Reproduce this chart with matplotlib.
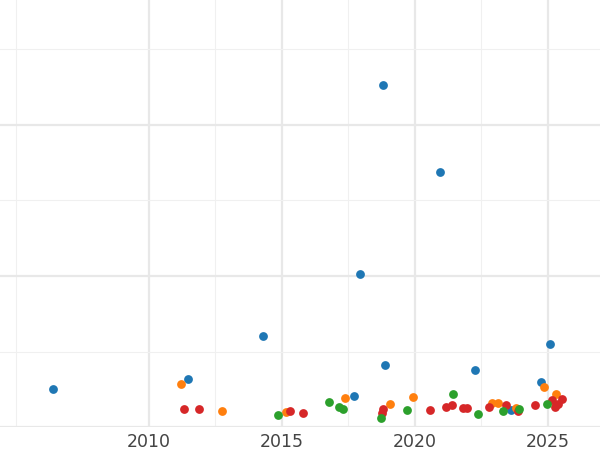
import matplotlib
matplotlib.use("Agg")
import matplotlib.pyplot as plt
from matplotlib.ticker import MultipleLocator, FixedLocator

# values (year, value)
blue_x = [2006.4, 2011.47, 2014.3, 2017.93, 2018.8, 2017.7, 2018.87, 2020.94, 2022.26, 2025.08, 2024.74, 2023.6]
blue_y = [0.50, 0.64, 1.21, 2.03, 4.53, 0.41, 0.82, 3.38, 0.75, 1.10, 0.60, 0.23]
orange_x = [2011.2, 2012.75, 2015.15, 2017.37, 2019.06, 2019.93, 2022.9, 2023.12, 2024.85, 2025.3, 2023.8]
orange_y = [0.57, 0.21, 0.20, 0.38, 0.30, 0.40, 0.32, 0.32, 0.53, 0.44, 0.25]
red_x = [2011.32, 2011.88, 2015.3, 2015.8, 2018.8, 2018.76, 2020.57, 2021.17, 2021.4, 2021.8,
         2021.96, 2022.8, 2023.42, 2023.87, 2024.5, 2025.15, 2025.26, 2025.38, 2025.53]
red_y = [0.24, 0.24, 0.21, 0.19, 0.24, 0.19, 0.23, 0.26, 0.29, 0.25,
         0.25, 0.26, 0.29, 0.21, 0.29, 0.36, 0.26, 0.30, 0.37]
green_x = [2014.85, 2016.77, 2017.14, 2017.3, 2018.72, 2019.7, 2021.43, 2022.37, 2023.3, 2023.9, 2024.96]
green_y = [0.16, 0.33, 0.26, 0.24, 0.12, 0.23, 0.44, 0.17, 0.21, 0.24, 0.30]
year_ticks = [2010, 2015, 2020, 2025]

fig = plt.figure(figsize=(6, 4.5), dpi=100)
ax = fig.add_axes([0, 0.051, 1, 0.949])
ax.set_xlim(2004.4, 2026.96)
ax.set_ylim(0, 5.655)

ax.xaxis.set_major_locator(FixedLocator(year_ticks))
ax.xaxis.set_minor_locator(FixedLocator([2005, 2012.5, 2017.5, 2022.5]))
ax.yaxis.set_major_locator(MultipleLocator(2))
ax.yaxis.set_minor_locator(MultipleLocator(1))
ax.grid(which="major", color="#e8e8e8", linewidth=1.6)
ax.grid(which="minor", color="#f0f0f0", linewidth=0.8)
ax.set_axisbelow(True)
for s in ax.spines.values():
    s.set_visible(False)
ax.tick_params(which="both", length=0)
ax.tick_params(axis="x", labelsize=12.5, labelcolor="#444444", pad=4)
ax.set_yticklabels([])

for xs, ys, c in [(blue_x, blue_y, "#1f77b4"), (orange_x, orange_y, "#ff7f0e"),
                  (red_x, red_y, "#d62728"), (green_x, green_y, "#2ca02c")]:
    ax.scatter(xs, ys, s=40, color=c, zorder=3, linewidths=0)

fig.savefig("out.png", dpi=100)
